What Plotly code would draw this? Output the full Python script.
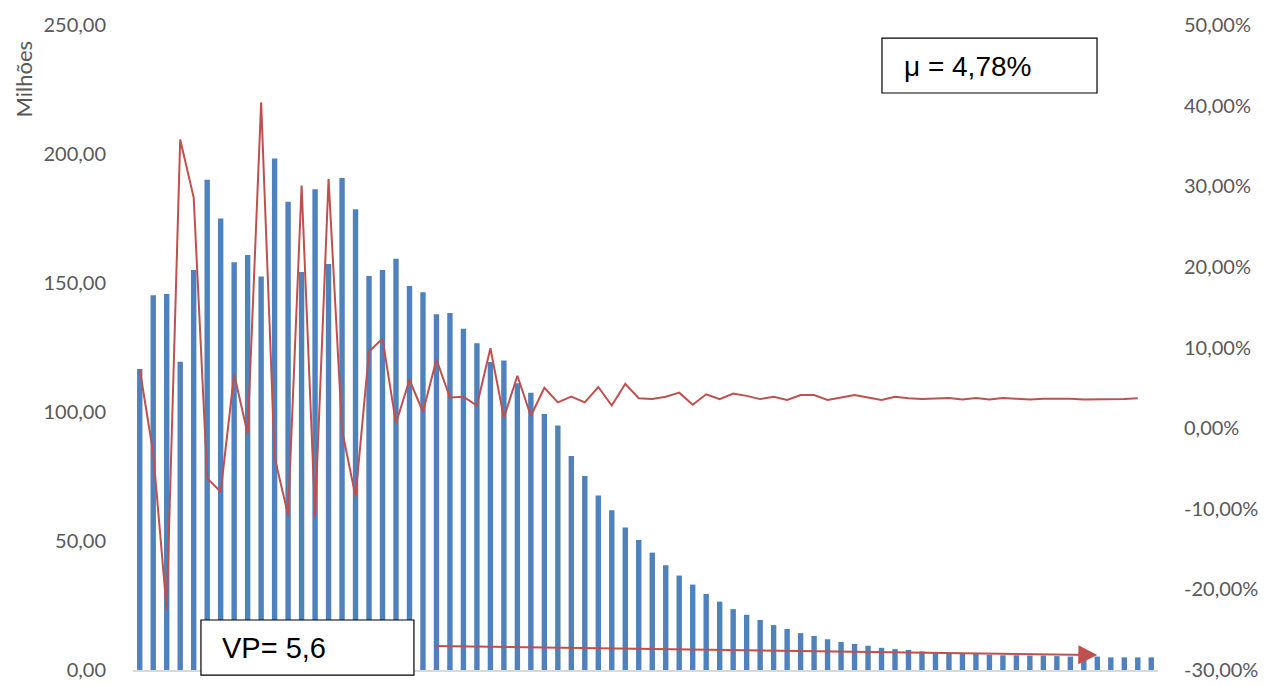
import plotly.graph_objects as go

# values (millions on the left axis, rate on the right)
periods = list(range(76))

vp_millions = [
    116.7, 145.3, 145.7, 119.5, 155.0, 190.0, 175.0, 158.0, 160.9, 152.5,
    198.3, 181.5, 154.3, 186.3, 157.4, 190.7, 178.6, 152.7, 155.0, 159.4,
    148.8, 146.4, 137.9, 138.4, 132.3, 126.6, 119.4, 120.0, 111.1, 107.5,
    99.2, 94.8, 82.9, 75.2, 67.6, 61.9, 55.2, 50.4, 45.5, 40.6,
    36.6, 33.1, 29.5, 26.5, 23.6, 21.4, 19.4, 17.4, 15.9, 14.3,
    13.2, 11.9, 10.9, 10.1, 9.4, 8.6, 8.1, 7.8, 7.2, 7.0,
    6.7, 6.5, 6.2, 5.9, 5.7, 5.7, 5.6, 5.6, 5.4, 5.2,
    5.2, 5.2, 4.9, 4.9, 4.9, 4.9,
]

rate_pct = [
    7.3, -3.1, -22.6, 35.8, 28.6, -6.2, -7.9, 6.7, -0.7, 40.4,
    -3.6, -10.8, 30.1, -11.0, 30.9, -0.25, -8.5, 9.5, 11.1, 0.6,
    6.0, 2.0, 8.5, 3.8, 3.9, 2.8, 9.9, 1.3, 6.5, 1.5,
    5.0, 3.2, 3.9, 3.2, 5.1, 2.8, 5.5, 3.7, 3.6, 3.9,
    4.4, 2.9, 4.2, 3.6, 4.3, 4.0, 3.6, 3.9, 3.5, 4.1,
    4.1, 3.5, 3.8, 4.1, 3.8, 3.5, 3.9, 3.7, 3.6, 3.65,
    3.75, 3.55, 3.75, 3.55, 3.75, 3.65, 3.55, 3.65, 3.65, 3.65,
    3.55, 3.55, 3.55, 3.6, 3.7, None,
]
rate = [None if v is None else v / 100 for v in rate_pct]

left_ticks = [0, 50, 100, 150, 200, 250]
left_labels = ["0,00", "50,00", "100,00", "150,00", "200,00", "250,00"]
right_ticks = [-0.3, -0.2, -0.1, 0.0, 0.1, 0.2, 0.3, 0.4, 0.5]
right_labels = ["-30,00%", "-20,00%", "-10,00%", "0,00%", "10,00%",
                "20,00%", "30,00%", "40,00%", "50,00%"]

mean_label = "μ = 4,78%"
vp_label = "VP= 5,6"

BLUE = "#4F81BD"
RED = "#C0504D"
GREY = "#595959"

fig = go.Figure()
fig.add_trace(go.Bar(x=periods, y=vp_millions, marker_color=BLUE,
                     marker_line_width=0, width=0.4, yaxis="y"))
fig.add_trace(go.Scatter(x=periods, y=rate, mode="lines",
                         line=dict(color=RED, width=2), yaxis="y2"))

# page body keeps an 8px margin, so the figure is a bit smaller than the window
fig.update_layout(
    width=1263, height=678,
    margin=dict(l=125, r=113, t=17, b=16),
    plot_bgcolor="white", paper_bgcolor="white",
    showlegend=False,
    font=dict(family="Lato", size=20, color=GREY),
    xaxis=dict(range=[-0.5, 75.5], showticklabels=False, ticks="",
               showgrid=False, zeroline=False, automargin=False,
               showline=True, linecolor="#D9D9D9", linewidth=2),
    yaxis=dict(range=[0, 250], tickvals=left_ticks, ticktext=left_labels,
               showgrid=False, zeroline=False, ticks="outside", automargin=False,
               ticklen=22, tickcolor="rgba(0,0,0,0)"),
    yaxis2=dict(range=[-0.3, 0.5], tickvals=right_ticks, ticktext=right_labels,
                overlaying="y", side="right", showgrid=False, zeroline=False,
                automargin=False, ticks="outside", ticklen=21,
                tickcolor="rgba(0,0,0,0)"),
)

# text boxes
fig.add_shape(type="rect", xref="paper", yref="paper",
              x0=0.7307, x1=0.9405, y0=0.8946, y1=0.9798,
              line=dict(color="black", width=1.2), fillcolor="white", layer="above")
fig.add_shape(type="rect", xref="paper", yref="paper",
              x0=0.0663, x1=0.2741, y0=-0.0078, y1=0.0775,
              line=dict(color="black", width=1.2), fillcolor="white", layer="above")
fig.add_annotation(text=mean_label, xref="paper", yref="paper",
                   x=0.7500, y=0.935, xanchor="left", yanchor="middle",
                   showarrow=False,
                   font=dict(family="Liberation Sans", size=28, color="black"))
fig.add_annotation(text=vp_label, xref="paper", yref="paper",
                   x=0.0845, y=0.034, xanchor="left", yanchor="middle",
                   showarrow=False,
                   font=dict(family="Liberation Sans", size=29, color="black"))

# arrow pointing to the tail of the distribution
fig.add_annotation(x=71, y=5.8, ax=21.8, ay=9.3, xref="x", yref="y",
                   axref="x", ayref="y", text="", showarrow=True,
                   arrowhead=2, arrowsize=1.9, arrowwidth=2, arrowcolor=RED)

# units label
fig.add_annotation(text="Milhões", xref="paper", yref="paper",
                   x=-0.107, y=0.916, xanchor="center", yanchor="middle",
                   textangle=-90, showarrow=False,
                   font=dict(family="Lato", size=22, color=GREY))

fig.write_html("out.html")
